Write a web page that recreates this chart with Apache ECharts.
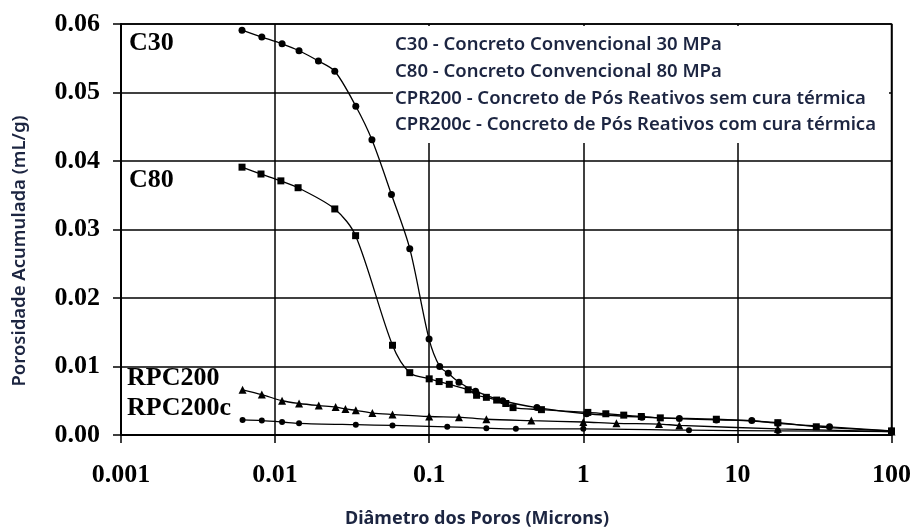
<!DOCTYPE html>
<html>
<head>
<meta charset="utf-8">
<script src="https://cdn.jsdelivr.net/npm/echarts@6/dist/echarts.min.js"></script>
<style>
  html, body { margin: 0; padding: 0; background: #fff; }
  #chart { width: 914px; height: 528px; }
</style>
</head>
<body>
<div id="chart"></div>
<script>
// Cumulative pore volume (mL/g) against pore diameter (microns), log scale
const c30 = [
  [0.0061, 0.0591], [0.0082, 0.0581], [0.0111, 0.0571], [0.0143, 0.0561],
  [0.0191, 0.0546], [0.0244, 0.0531], [0.0334, 0.0480], [0.0425, 0.0431],
  [0.0569, 0.0351], [0.0748, 0.0272], [0.0998, 0.0140], [0.117, 0.0100],
  [0.133, 0.0090], [0.156, 0.0077], [0.20, 0.0064], [0.30, 0.0050],
  [0.50, 0.0040], [1.05, 0.0031], [2.4, 0.0026], [4.2, 0.0024],
  [7.3, 0.0022], [12.4, 0.0021], [18.3, 0.0017], [39.6, 0.0012], [100, 0.0006]
];
const c80 = [
  [0.0061, 0.0391], [0.0081, 0.0381], [0.0109, 0.0371], [0.0141, 0.0361],
  [0.0244, 0.0330], [0.0333, 0.0291], [0.0578, 0.0131], [0.0748, 0.0091],
  [0.100, 0.0082], [0.116, 0.0078], [0.135, 0.0074], [0.179, 0.0066],
  [0.203, 0.0058], [0.235, 0.0055], [0.274, 0.0051], [0.314, 0.0046],
  [0.35, 0.0040], [0.535, 0.0037], [1.07, 0.0033], [1.4, 0.0031],
  [1.83, 0.0029], [2.38, 0.0027], [3.16, 0.0025], [7.3, 0.0023],
  [18.3, 0.0018], [32.5, 0.0012], [100, 0.0006]
];
const rpc200 = [
  [0.00615, 0.0066], [0.0082, 0.0059], [0.0111, 0.0050], [0.0143, 0.0046],
  [0.0192, 0.0043], [0.0247, 0.0041], [0.0286, 0.0038], [0.0334, 0.0036],
  [0.0428, 0.0032], [0.0578, 0.0030], [0.100, 0.0027], [0.156, 0.0026],
  [0.235, 0.0023], [0.46, 0.0021], [1.0, 0.0019], [1.64, 0.0017],
  [3.1, 0.0016], [4.2, 0.0014], [18.3, 0.0009], [100, 0.0005]
];
const rpc200c = [
  [0.00615, 0.0022], [0.0082, 0.0021], [0.0111, 0.0019], [0.0143, 0.0017],
  [0.0334, 0.0015], [0.0578, 0.0014], [0.131, 0.0012], [0.235, 0.0010],
  [0.365, 0.0009], [1.0, 0.0009], [4.85, 0.0007], [18.3, 0.0006], [100, 0.0005]
];

const seriesNames = ['C30', 'C80', 'RPC200', 'RPC200c'];
const legendLines = [
  'C30 - Concreto Convencional 30 MPa',
  'C80 - Concreto Convencional 80 MPa',
  'CPR200 - Concreto de Pós Reativos sem cura térmica',
  'CPR200c - Concreto de Pós Reativos com cura térmica'
];
const xTitle = 'Diâmetro dos Poros (Microns)';
const yTitle = 'Porosidade Acumulada (mL/g)';

const chart = echarts.init(document.getElementById('chart'));

const serifBold = { fontFamily: 'Liberation Serif', fontWeight: 'bold', color: '#000' };
const titleColor = '#1c2541';
const curveLabelFont = 'bold 26px "Liberation Serif"';

function lineSeries(name, data, symbol, size) {
  return {
    name: name,
    type: 'line',
    data: data,
    smooth: 0.3,
    symbol: symbol,
    symbolSize: size,
    lineStyle: { color: '#000', width: 1.3 },
    itemStyle: { color: '#000' },
    z: 3
  };
}

const legendTexts = legendLines.map((t, i) => ({
  type: 'text',
  x: 395,
  y: 45 + i * 26.7,
  style: {
    text: t,
    fill: titleColor,
    font: '600 18.5px "Noto Sans"',
    verticalAlign: 'middle'
  },
  z: 11
}));

chart.setOption({
  animation: false,
  backgroundColor: '#fff',
  grid: { left: 121, right: 22, top: 24, bottom: 93, show: true, borderColor: '#000', borderWidth: 1.5 },
  xAxis: {
    type: 'log',
    logBase: 10,
    min: 0.001,
    max: 100,
    axisLine: { show: true, lineStyle: { color: '#000', width: 2 } },
    axisTick: { show: true, inside: false, length: 8, lineStyle: { color: '#000', width: 1.5 } },
    minorTick: { show: false },
    splitLine: { show: true, lineStyle: { color: '#000', width: 1.5 } },
    axisLabel: Object.assign({ fontSize: 26, margin: 27, formatter: v => String(+v.toPrecision(3)) }, serifBold)
  },
  yAxis: {
    type: 'value',
    min: 0,
    max: 0.06,
    interval: 0.01,
    axisLine: { show: true, lineStyle: { color: '#000', width: 2 } },
    axisTick: { show: true, length: 8, lineStyle: { color: '#000', width: 1.5 } },
    splitLine: { show: true, lineStyle: { color: '#000', width: 1.5 } },
    axisLabel: Object.assign({ fontSize: 26, margin: 21, formatter: v => v.toFixed(2) }, serifBold)
  },
  series: [
    lineSeries(seriesNames[0], c30, 'circle', 7),
    lineSeries(seriesNames[1], c80, 'rect', 7),
    lineSeries(seriesNames[2], rpc200, 'triangle', 8),
    lineSeries(seriesNames[3], rpc200c, 'circle', 6)
  ],
  graphic: [
    // white panel holding the description of each curve
    { type: 'rect', left: 393, top: 26, shape: { width: 496, height: 117 }, style: { fill: '#fff' }, z: 10 }
  ].concat(legendTexts).concat([
    { type: 'text', left: 129, top: 30, style: { text: seriesNames[0], font: curveLabelFont, fill: '#000' }, z: 11 },
    { type: 'text', left: 129, top: 167, style: { text: seriesNames[1], font: curveLabelFont, fill: '#000' }, z: 11 },
    { type: 'text', left: 127, top: 365, style: { text: seriesNames[2], font: curveLabelFont, fill: '#000' }, z: 11 },
    { type: 'text', left: 127, top: 395, style: { text: seriesNames[3], font: curveLabelFont, fill: '#000' }, z: 11 },
    {
      type: 'text', x: 477, y: 519,
      style: { text: xTitle, font: 'bold 18px "Noto Sans"', fill: titleColor, align: 'center', verticalAlign: 'middle' }
    },
    {
      type: 'text', x: 20, y: 251, rotation: Math.PI / 2,
      style: { text: yTitle, font: '600 18.5px "Noto Sans"', fill: titleColor, align: 'center', verticalAlign: 'middle' }
    }
  ])
});
</script>
</body>
</html>
